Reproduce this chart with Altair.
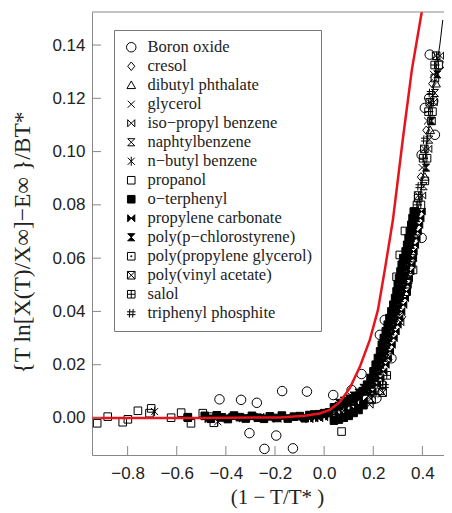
import altair as alt
import pandas as pd

# substances, in legend order, with their marker paths and fills
names = [
    "Boron oxide", "cresol", "dibutyl phthalate", "glycerol", "iso−propyl benzene",
    "naphtylbenzene", "n−butyl benzene", "propanol", "o−terphenyl",
    "propylene carbonate", "poly(p−chlorostyrene)", "poly(propylene glycerol)",
    "poly(vinyl acetate)", "salol", "triphenyl phosphite",
]
shapes = [
    "circle",
    "M0,-0.9L0.75,0L0,0.9L-0.75,0Z",
    "M0,-0.9L0.9,0.7L-0.9,0.7Z",
    "M-0.75,-0.75L0.75,0.75M-0.75,0.75L0.75,-0.75",
    "M-0.75,-0.75L0.75,0.75L0.75,-0.75L-0.75,0.75Z",
    "M-0.75,-0.75L0.75,-0.75L-0.75,0.75L0.75,0.75Z",
    "M-0.75,-0.75L0.75,0.75M-0.75,0.75L0.75,-0.75M0,-0.95L0,0.95",
    "M-0.8,-0.8H0.8V0.8H-0.8Z",
    "M-0.8,-0.8H0.8V0.8H-0.8Z",
    "M-0.75,-0.75L0.75,0.75L0.75,-0.75L-0.75,0.75Z",
    "M-0.75,-0.75L0.75,-0.75L-0.75,0.75L0.75,0.75Z",
    "M-0.8,-0.8H0.8V0.8H-0.8ZM-0.1,-0.1H0.1V0.1H-0.1Z",
    "M-0.8,-0.8H0.8V0.8H-0.8ZM-0.8,-0.8L0.8,0.8M-0.8,0.8L0.8,-0.8",
    "M-0.8,-0.8H0.8V0.8H-0.8ZM0,-0.8V0.8M-0.8,0H0.8",
    "M-0.3,-0.9L-0.4,0.9M0.4,-0.9L0.3,0.9M-0.9,-0.3L0.9,-0.3M-0.9,0.3L0.9,0.3",
]
fills = ["transparent"] * 8 + ["black", "black", "black"] + ["transparent"] * 4

boron_x = [-0.426, -0.338, -0.274, -0.171, -0.070, -0.304, -0.195, -0.243, -0.127,
           0.037, 0.112, 0.152, 0.213, 0.227, 0.247, 0.274,
           0.430, 0.471, 0.428, 0.444, 0.410, 0.451, 0.397, 0.397]
boron_y = [0.0070, 0.0068, 0.0057, 0.0101, 0.0099, -0.0057, -0.0066, -0.0116, -0.0114,
           0.0086, 0.0105, 0.0165, 0.0074, 0.0312, 0.0368, 0.0224,
           0.1364, 0.1326, 0.1201, 0.1190, 0.1164, 0.1063, 0.0988, 0.0676]

cresol_x = [0.394, 0.416, 0.440, 0.262, 0.318]
cresol_y = [0.0905, 0.108, 0.1255, 0.022, 0.038]

dibutyl_x = [0.410, 0.432, 0.456, 0.229, 0.288]
dibutyl_y = [0.0905, 0.108, 0.1255, 0.010, 0.041]

glycerol_x = [0.399, 0.421, 0.445, 0.205, 0.300]
glycerol_y = [0.094, 0.1115, 0.129, 0.009, 0.049]

isopropyl_x = [0.399, 0.424, 0.446, 0.472, 0.185, 0.310]
isopropyl_y = [0.0835, 0.101, 0.1185, 0.136, 0.005, 0.036]

naphtyl_x = [0.405, 0.428, 0.451, 0.190]
naphtyl_y = [0.087, 0.1045, 0.122, 0.0072]

butyl_x = [-0.690, -0.433, 0.195]
butyl_y = [0.0024, -0.0014, 0.0085]

propanol_x = [-0.924, -0.881, -0.820, -0.799, -0.758, -0.704, -0.711, -0.623, -0.582,
              -0.542, -0.555, -0.494, -0.449, -0.467,
              0.071, 0.193, 0.234,
              0.451, 0.437, 0.410, 0.329, 0.383, 0.369, 0.308, 0.295, 0.362, 0.342, 0.336]
propanol_y = [-0.0020, 0.0005, -0.0016, -0.0005, 0.0027, 0.0036, 0.0018, 0.0001, 0.0020,
              -0.0020, 0.0003, 0.0018, -0.0018, 0.0005,
              -0.0051, 0.0068, 0.0124,
              0.1276, 0.1115, 0.0890, 0.0702, 0.0825, 0.0774, 0.0612, 0.0530, 0.0556, 0.0518, 0.0474]

terphenyl_x = [-0.555, -0.486, -0.461, -0.437, -0.416, -0.392, -0.367, -0.343, -0.319, -0.294,
               -0.270, -0.245, -0.221, -0.196, -0.172, -0.148, -0.123, -0.099, -0.079,
               -0.06, -0.04, -0.02, 0.00, 0.02, 0.04, 0.06, 0.08, 0.10, 0.12, 0.14, 0.16,
               0.04, 0.06, 0.08, 0.10, 0.12, 0.14, 0.16,
               0.157, 0.175, 0.189, 0.201, 0.210, 0.219, 0.228, 0.235, 0.243, 0.251,
               0.259, 0.266, 0.274, 0.282, 0.289, 0.295, 0.300, 0.305, 0.311, 0.316,
               0.322, 0.332, 0.338, 0.344, 0.349, 0.355, 0.360, 0.365]
terphenyl_y = [0.0001, 0.0008, -0.0003, 0.0010, 0.0002, -0.0004, 0.0009, 0.0003, -0.0002, 0.0008,
               0.0001, -0.0003, 0.0006, 0.0000, 0.0009, -0.0002, 0.0005, 0.0007, -0.0001,
               0.0011, 0.0013, 0.0014, 0.0018, 0.0021, 0.0040, 0.0045, 0.0053, 0.0061, 0.0072, 0.0083, 0.0101,
               -0.0010, -0.0006, 0.0001, 0.0008, 0.0019, 0.0030, 0.0048,
               0.0100, 0.0125, 0.0150, 0.0175, 0.0200, 0.0225, 0.0250, 0.0275, 0.0300, 0.0325,
               0.0350, 0.0375, 0.0400, 0.0425, 0.0450, 0.0475, 0.0500, 0.0525, 0.0550, 0.0575,
               0.0600, 0.0625, 0.0650, 0.0675, 0.0700, 0.0725, 0.0750, 0.0775]

carbonate_x = [-0.47, -0.40, -0.33, -0.26, -0.19, -0.11, -0.03,
               -0.06, -0.04, -0.02, 0.00, 0.02, 0.04, 0.06, 0.08, 0.10, 0.12, 0.14, 0.16,
               0.197, 0.215, 0.229, 0.241, 0.250, 0.259, 0.268, 0.275, 0.283, 0.291,
               0.299, 0.306, 0.314, 0.322, 0.329, 0.335, 0.340, 0.345, 0.351, 0.356,
               0.362, 0.364, 0.370, 0.376, 0.381, 0.387, 0.392, 0.397]
carbonate_y = [-0.0004, 0.0005, -0.0001, 0.0004, -0.0003, 0.0002, 0.0006,
               -0.0004, -0.0002, -0.0001, 0.0003, 0.0006, 0.0004, 0.0009, 0.0017, 0.0025, 0.0036, 0.0047, 0.0065,
               0.0100, 0.0125, 0.0150, 0.0175, 0.0200, 0.0225, 0.0250, 0.0275, 0.0300, 0.0325,
               0.0350, 0.0375, 0.0400, 0.0425, 0.0450, 0.0475, 0.0500, 0.0525, 0.0550, 0.0575,
               0.0600, 0.0625, 0.0650, 0.0675, 0.0700, 0.0725, 0.0750, 0.0775]

chlorostyrene_x = [0.05, 0.09, 0.13,
                   0.06, 0.08, 0.10, 0.12, 0.14, 0.16,
                   0.177, 0.209, 0.230, 0.248, 0.263, 0.279, 0.294, 0.309, 0.320, 0.331,
                   0.342, 0.354, 0.365, 0.376,
                   0.195, 0.221, 0.239, 0.255, 0.271, 0.286, 0.302, 0.315, 0.325, 0.336,
                   0.415, 0.437, 0.461]
chlorostyrene_y = [0.0025, 0.0039, 0.0060,
                   0.0057, 0.0065, 0.0073, 0.0084, 0.0095, 0.0113,
                   0.010, 0.015, 0.020, 0.025, 0.030, 0.035, 0.040, 0.045, 0.050, 0.055,
                   0.060, 0.065, 0.070, 0.075,
                   0.0125, 0.0175, 0.0225, 0.0275, 0.0325, 0.0375, 0.0425, 0.0475, 0.0525, 0.0575,
                   0.094, 0.1115, 0.129]

ppg_x = [0.394, 0.419, 0.441, 0.466, 0.222]
ppg_y = [0.080, 0.0975, 0.115, 0.1325, 0.0135]

pvac_x = [0.383, 0.408, 0.430, 0.456, 0.238, 0.356]
pvac_y = [0.0835, 0.101, 0.1185, 0.136, 0.0095, 0.060]

salol_x = [0.378, 0.403, 0.425, 0.450, 0.335, 0.255]
salol_y = [0.080, 0.0975, 0.115, 0.1325, 0.052, 0.016]

phosphite_x = [0.389, 0.412, 0.435, 0.246]
phosphite_y = [0.087, 0.1045, 0.122, 0.012]

# thin black fit through the data and the red model curve
fit_x = [-0.50, -0.099, -0.018, 0.023, 0.064, 0.105, 0.145, 0.186, 0.219, 0.247, 0.276,
         0.308, 0.332, 0.361, 0.386, 0.406, 0.422, 0.439, 0.455, 0.471, 0.483]
fit_y = [0.0003, 0.0004, 0.0009, 0.0017, 0.0028, 0.0045, 0.0068, 0.0109, 0.0169, 0.0248, 0.0342,
         0.0443, 0.0556, 0.0679, 0.0800, 0.0931, 0.1062, 0.1194, 0.1306, 0.1400, 0.1494]

model_x = [-0.946, -0.506, -0.180, -0.079, -0.018, 0.023, 0.064, 0.105, 0.145, 0.186,
           0.219, 0.247, 0.280, 0.321, 0.357, 0.398]
model_y = [0.0, 0.0, 0.0002, 0.0008, 0.0017, 0.0030, 0.0060, 0.0113, 0.0191, 0.0293,
           0.0405, 0.0556, 0.0743, 0.1051, 0.1306, 0.1527]

x_ticks = [-0.8, -0.6, -0.4, -0.2, 0.0, 0.2, 0.4]
y_ticks = [0.0, 0.02, 0.04, 0.06, 0.08, 0.10, 0.12, 0.14]

series = [
    (boron_x, boron_y), (cresol_x, cresol_y), (dibutyl_x, dibutyl_y), (glycerol_x, glycerol_y),
    (isopropyl_x, isopropyl_y), (naphtyl_x, naphtyl_y), (butyl_x, butyl_y),
    (propanol_x, propanol_y), (terphenyl_x, terphenyl_y), (carbonate_x, carbonate_y),
    (chlorostyrene_x, chlorostyrene_y), (ppg_x, ppg_y), (pvac_x, pvac_y),
    (salol_x, salol_y), (phosphite_x, phosphite_y),
]
rows = []
for name, (xs, ys) in zip(names, series):
    for x, y in zip(xs, ys):
        rows.append({"x": x, "y": y, "substance": name})
points = pd.DataFrame(rows)

W, H = 352, 443
x_scale = alt.Scale(domain=[-0.945, 0.488], nice=False, zero=False)
y_scale = alt.Scale(domain=[-0.0139, 0.1524], nice=False, zero=False)

x_axis = alt.Axis(
    values=x_ticks, format=".1f", title="(1 − T/T* )", ticks=False, grid=False,
    labelPadding=10, titleX=185, titleY=42, titleBaseline="middle",
)
y_axis = alt.Axis(
    values=y_ticks, format=".2f", title="{T ln[X(T)/X∞]−E∞ }/BT*", ticks=False, grid=False,
    labelPadding=7, titleX=-70, titleY=230, titleBaseline="middle", titleFontSize=23.5,
)
X = alt.X("x:Q", scale=x_scale, axis=x_axis)
Y = alt.Y("y:Q", scale=y_scale, axis=y_axis)

legend = alt.Legend(
    title=None, orient="none", legendX=22, legendY=18, padding=9,
    strokeColor="#777", fillColor="white",
    labelFont="Liberation Serif", labelFontSize=16.5, labelColor="#222", labelLimit=400,
    labelOffset=8, rowPadding=2, symbolSize=90, symbolStrokeWidth=1,
)

scatter = alt.Chart(points).mark_point(
    size=90, strokeWidth=1, opacity=1, clip=True
).encode(
    x=X,
    y=Y,
    shape=alt.Shape("substance:N", scale=alt.Scale(domain=names, range=shapes), legend=legend),
    fill=alt.Fill("substance:N", scale=alt.Scale(domain=names, range=fills), legend=legend),
    stroke=alt.Stroke("substance:N", scale=alt.Scale(domain=names, range=["black"] * 15), legend=legend),
)

fit = alt.Chart(pd.DataFrame({"x": fit_x, "y": fit_y})).mark_line(
    color="black", strokeWidth=1, clip=True
).encode(x=X, y=Y)

model = alt.Chart(pd.DataFrame({"x": model_x, "y": model_y})).mark_line(
    color="#e8141c", strokeWidth=2.5, clip=True
).encode(x=X, y=Y)

# inward tick marks and the top edge of the frame
xtick = alt.Chart(pd.DataFrame({"x": x_ticks})).mark_rule(color="#888").encode(
    x=X, y=alt.value(H - 9), y2=alt.value(H)
)
ytick = alt.Chart(pd.DataFrame({"y": y_ticks})).mark_rule(color="#888").encode(
    y=Y, x=alt.value(0), x2=alt.value(9)
)
top = alt.Chart(pd.DataFrame({"a": [0]})).mark_rule(color="#888").encode(
    x=alt.value(0), x2=alt.value(W), y=alt.value(0)
)

chart = (
    alt.layer(scatter, fit, model, xtick, ytick, top)
    .properties(
        width=W, height=H,
        autosize=alt.AutoSizeParams(type="none"),
        padding={"left": 84, "top": 4, "right": 0, "bottom": 58},
        background="white",
    )
    .configure_view(stroke="transparent")
    .configure_axis(
        domainColor="#888",
        labelColor="#222", labelFont="Liberation Sans", labelFontSize=17,
        titleColor="#222", titleFont="Liberation Serif", titleFontSize=21, titleFontWeight="normal",
    )
)

chart.save("out.html", embed_options={"renderer": "svg", "actions": False})
